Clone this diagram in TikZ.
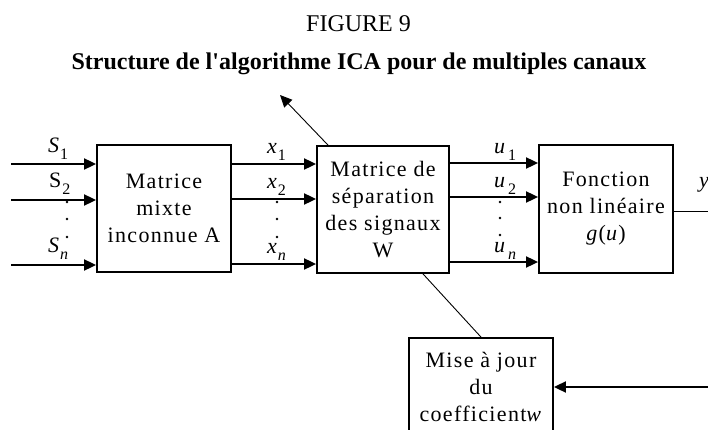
\documentclass[tikz,border=0pt]{standalone}
\usepackage{fontspec}
\setmainfont{Liberation Serif}
\newfontfamily\boxfont[LetterSpace=6]{Liberation Serif}
\usetikzlibrary{arrows.meta}
% signal label: letter with a lowered subscript
\newcommand{\lab}[2]{#1\kern1pt\raisebox{-7pt}{\fontsize{16}{16}\selectfont #2}}
\begin{document}
\begin{tikzpicture}[x=1pt,y=-1pt,
  blk/.style={draw,line width=1.8pt,inner sep=0pt,align=center,
    font=\boxfont\fontsize{22}{27}\selectfont},
  sig/.style={line width=1.8pt,-{Triangle[length=12pt,width=11pt]}},
  thin/.style={line width=0.9pt},
  siglab/.style={font=\fontsize{22}{22}\selectfont,inner sep=0pt,anchor=base west},
  vdot/.style={circle,fill,inner sep=0pt,minimum size=2.8pt}]
\useasboundingbox (0,0) rectangle (708,430);
\clip (0,0) rectangle (708,430);

% titles
\node[font=\fontsize{24}{24}\selectfont,anchor=base] (fig) at (358.5,32) {FIGURE 9};
\node[font=\fontsize{24}{24}\selectfont\bfseries,anchor=base] (ttl) at (359,70)
  {Structure de l\textquotesingle algorithme ICA pour de multiples canaux};

% blocks
\node[blk,minimum width=134pt,minimum height=127pt] (A) at (164,208.5)
  {Matrice\\mixte\\inconnue A};
\node[blk,minimum width=132pt,minimum height=127pt] (W) at (383,209.5)
  {Matrice de\\séparation\\des signaux\\W};
\node[blk,minimum width=134pt,minimum height=128pt] (G) at (606,209)
  {Fonction\\non linéaire\\\textit{g}(\textit{u})};
\node[draw,line width=1.8pt,minimum width=144pt,minimum height=110pt] (M) at (481,393) {};
\node[font=\boxfont\fontsize{22}{27}\selectfont,align=center,anchor=north,inner sep=0pt]
  (Mt) at (481,352) {Mise à jour\\du\\coefficient\textit{w}};

% source inputs
\coordinate (s1) at (11,164);
\coordinate (s2) at (11,200);
\coordinate (sn) at (11,265);
\draw[sig] (s1) -- (s1 -| A.west);
\draw[sig] (s2) -- (s2 -| A.west);
\draw[sig] (sn) -- (sn -| A.west);
\node[siglab] (ls1) at (48,153) {\lab{\textit{S}}{1}};
\node[siglab] (ls2) at (49,188) {\lab{S}{2}};
\node[siglab] (lsn) at (48,252) {\lab{\textit{S}}{\textit{n}}};
\node[vdot] (d1) at (67,202) {};
\node[vdot] (d2) at (67,219) {};
\node[vdot] (d3) at (67,237) {};

% mixtures
\coordinate (x1) at (A.east |- 0,164);
\coordinate (x2) at (A.east |- 0,199);
\coordinate (xn) at (A.east |- 0,264);
\draw[sig] (x1) -- (x1 -| W.west);
\draw[sig] (x2) -- (x2 -| W.west);
\draw[sig] (xn) -- (xn -| W.west);
\node[siglab] (lx1) at (267,154) {\lab{\textit{x}}{1}};
\node[siglab] (lx2) at (267,189) {\lab{\textit{x}}{2}};
\node[siglab] (lxn) at (267,253) {\lab{\textit{x}}{\textit{n}}};
\node[vdot] (e1) at (277,202) {};
\node[vdot] (e2) at (277,219) {};
\node[vdot] (e3) at (277,237) {};

% separated outputs
\coordinate (u1) at (W.east |- 0,163);
\coordinate (u2) at (W.east |- 0,197);
\coordinate (un) at (W.east |- 0,262);
\draw[sig] (u1) -- (u1 -| G.west);
\draw[sig] (u2) -- (u2 -| G.west);
\draw[sig] (un) -- (un -| G.west);
\node[siglab] (lu1) at (494,154) {\lab{\textit{u}\kern2pt}{1}};
\node[siglab] (lu2) at (494,188) {\lab{\textit{u}\kern2pt}{2}};
\node[siglab] (lun) at (494,252) {\lab{\textit{u}\kern2pt}{\textit{n}}};
\node[vdot] (f1) at (500,202) {};
\node[vdot] (f2) at (500,218) {};
\node[vdot] (f3) at (500,235) {};

% nonlinear output and feedback
\coordinate (yo) at (708,211);
\draw[thin] (G.east |- yo) -- (yo);
\node[siglab] (ly) at (699,188) {\textit{y}};
\coordinate (fb) at (708,387);
\draw[sig] (fb) -- (fb -| M.east);

% adaptation path through the separation matrix
\coordinate (wlow) at ([xshift=40pt]W.south);
\coordinate (whigh) at ([xshift=-55pt]W.north);
\coordinate (adapt) at (280,95);
\draw[thin] (M.north) -- (wlow);
\draw[thin,-{Triangle[length=12pt,width=11pt]}] (whigh) -- (adapt);
\end{tikzpicture}
\end{document}
